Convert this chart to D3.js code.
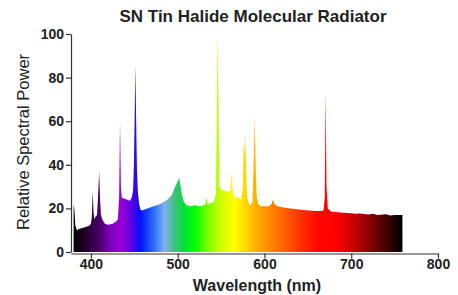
<!DOCTYPE html>
<html>
<head>
<meta charset="utf-8">
<script src="https://cdn.jsdelivr.net/npm/d3@7"></script>
<style>
    body { margin: 0; background: #fff; }
    text { font-family: "Liberation Sans", Arial, sans-serif; fill: #222; }
</style>
</head>
<body>
<div></div>
<script>
var width = 458;
var height = 295;

// spectrum samples (nm, relative power)
var wavelengths = [380, 381, 382, 384, 386, 390, 394, 398, 400, 401, 402, 403, 404, 405, 407, 408, 409.5, 410.5, 411.5, 413, 416, 420, 425, 429, 431, 432.5, 433.5, 434.5, 435.5, 438, 442, 445, 447, 448.5, 449.5, 450.5, 451.2, 452, 453, 454, 455.5, 457, 459, 465, 472, 480, 488, 493, 497, 500, 501.8, 503, 505, 507, 510, 515, 520, 525, 530, 532, 533.4, 534.5, 538, 542, 544, 545, 546, 547, 548, 550, 555, 558, 560, 561, 562.2, 563.3, 566, 570, 573, 575, 576, 577, 577.8, 579, 580, 582, 584, 586, 587.5, 588.7, 589.8, 591, 593, 596, 600, 605, 608, 610, 611.5, 615, 620, 630, 640, 650, 660, 665, 668, 669.5, 670.5, 671.5, 673, 677, 680, 690, 700, 705, 710, 720, 725, 730, 740, 745, 750, 755, 759];
var power = [22, 19, 12, 10, 10.5, 11, 11.5, 12, 13, 16, 28, 18, 15, 16, 17, 24, 37, 24, 17, 15, 13, 12.5, 13, 14, 15, 25, 60, 30, 25, 24.5, 24, 23.5, 25, 28, 40, 65, 86, 62, 38, 28, 22, 19.5, 19, 20, 21, 22, 24, 26, 30, 32.5, 34, 31, 26, 23, 21.5, 21, 21.5, 21, 21.5, 22, 25, 22, 22.5, 23, 27, 60, 100, 70, 30, 28.5, 28, 27.5, 28, 29, 37, 28, 25, 25, 24, 30, 50, 45, 54, 35, 25, 22, 21.5, 23, 40, 62, 40, 25, 22, 21, 21, 21, 22, 24, 22, 21, 20.5, 20, 19.5, 19, 18.8, 18.8, 19, 25, 73.5, 30, 20, 18.5, 18.5, 18, 17.8, 17.5, 17.7, 17.2, 17.6, 17, 17.3, 16.8, 17, 17, 17];

// colour of the light at each wavelength
var stopNm = [380, 390, 400, 410, 423, 435, 446, 457, 466, 473, 485, 496, 508, 520, 535, 550, 565, 575, 590, 613, 636, 660, 682, 705, 728, 750, 759];
var stopColor = ['#000000', '#1a0020', '#300045', '#4a0068', '#8000c0', '#9a00d8', '#6000e0', '#0010ff', '#1848ff', '#3070ff', '#80b0f0', '#40c080', '#00e030', '#00ff00', '#80ff00', '#d0ff00', '#ffff00', '#ffe000', '#ffb000', '#ff7800', '#ff4000', '#ff0800', '#ff0000', '#c00000', '#700000', '#200000', '#000000'];

var xTicks = [400, 500, 600, 700, 800];
var yTicks = [0, 20, 40, 60, 80, 100];

var svg = d3.select('div')
    .append('svg').attr('width', width).attr('height', height);

var x = d3.scaleLinear().domain([377, 800]).range([71, 438]);
var y = d3.scaleLinear().domain([0, 100]).range([252, 34]);

var grad = svg.append('defs').append('linearGradient')
    .attr('id', 'spec')
    .attr('gradientUnits', 'userSpaceOnUse')
    .attr('x1', x(380)).attr('x2', x(759))
    .attr('y1', 0).attr('y2', 0);

grad.selectAll('stop')
    .data(stopNm)
    .enter()
    .append('stop')
    .attr('offset', function (d) { return (d - 380) / (759 - 380); })
    .attr('stop-color', function (d, i) { return stopColor[i]; });

var data = wavelengths.map(function (w, i) { return { nm: w, p: power[i] }; });

var area = d3.area()
    .x(function (d) { return x(d.nm); })
    .y0(y(0))
    .y1(function (d) { return y(d.p); });

svg.append('path')
    .datum(data)
    .attr('d', area)
    .attr('fill', 'url(#spec)');

var xAxis = svg.append('g')
    .attr('transform', 'translate(0,' + (y(0) + 1.5) + ')')
    .call(d3.axisBottom(x).tickValues(xTicks).tickSize(5).tickSizeOuter(0));

var yAxis = svg.append('g')
    .attr('transform', 'translate(71,0)')
    .call(d3.axisLeft(y).tickValues(yTicks).tickSize(5).tickSizeOuter(0));

svg.selectAll('.domain, .tick line').attr('stroke', '#333').attr('stroke-width', 1.2);
svg.selectAll('.tick text')
    .style('font-size', '14px')
    .style('font-weight', 'bold')
    .attr('fill', '#222');
xAxis.selectAll('.tick text').attr('y', 5).attr('dy', '0.72em');
yAxis.selectAll('.tick text').attr('x', -7);

svg.append('text')
    .attr('x', 253).attr('y', 22)
    .attr('text-anchor', 'middle')
    .style('font-size', '17px')
    .style('font-weight', 'bold')
    .text('SN Tin Halide Molecular Radiator');

svg.append('text')
    .attr('x', 257).attr('y', 291)
    .attr('text-anchor', 'middle')
    .style('font-size', '16px')
    .style('font-weight', 'bold')
    .text('Wavelength (nm)');

svg.append('text')
    .attr('transform', 'translate(29,142) rotate(-90)')
    .attr('text-anchor', 'middle')
    .style('font-size', '16.5px')
    .text('Relative Spectral Power');
</script>
</body>
</html>
